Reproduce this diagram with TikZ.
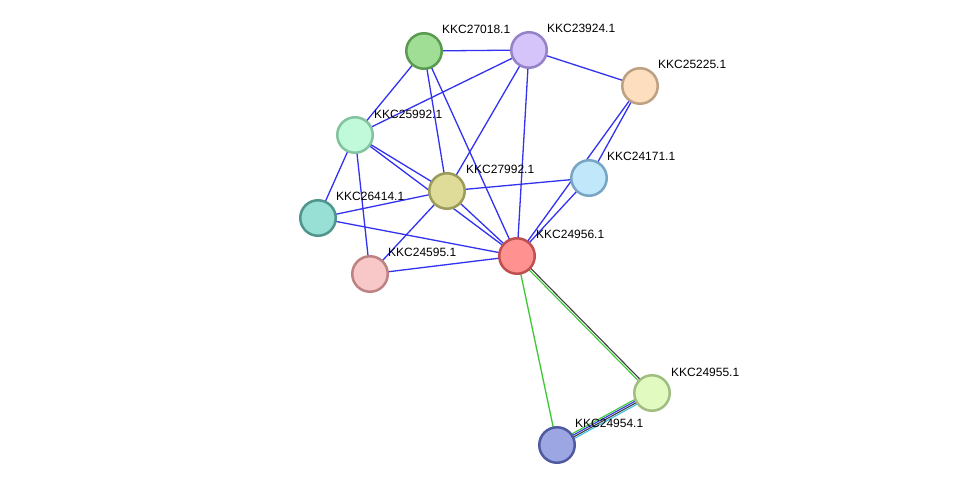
\documentclass[tikz,border=0pt]{standalone}
\usepackage{fontspec}
\setmainfont{Liberation Sans}
\usetikzlibrary{calc,backgrounds}
\definecolor{eblue}{RGB}{50,50,240}
\definecolor{egreen}{RGB}{60,200,50}
\definecolor{eblack}{RGB}{60,60,60}
\definecolor{ecyan}{RGB}{60,190,230}
\tikzset{
  prot/.style={circle,minimum size=35.5pt,inner sep=0pt,line width=2.5pt},
  lbl/.style={anchor=west,inner sep=0pt,font=\fontsize{12}{14}\selectfont},
  edge/.style={line width=1.3pt,eblue},
  medge/.style={line width=1.1pt},
}
\newcommand{\pedge}[4]{% #1 style, #2 offset, #3 from, #4 to
  \draw[#1] ($(#3.center)!#2!90:(#4.center)$) -- ($(#4.center)!#2!-90:(#3.center)$);}
\begin{document}
\begin{tikzpicture}[x=1pt,y=-1pt]
\useasboundingbox (0,0) rectangle (975,490);
% nodes
\node[prot,fill={rgb,255:red,160;green,222;blue,150},draw={rgb,255:red,90;green,155;blue,80}] (n27018) at (424,51) {};
\node[prot,fill={rgb,255:red,212;green,196;blue,250},draw={rgb,255:red,150;green,130;blue,200}] (n23924) at (529,50) {};
\node[prot,fill={rgb,255:red,253;green,223;blue,192},draw={rgb,255:red,190;green,160;blue,130}] (n25225) at (640,86) {};
\node[prot,fill={rgb,255:red,192;green,250;blue,218},draw={rgb,255:red,130;green,195;blue,160}] (n25992) at (355,135) {};
\node[prot,fill={rgb,255:red,192;green,232;blue,250},draw={rgb,255:red,120;green,165;blue,195}] (n24171) at (589,178) {};
\node[prot,fill={rgb,255:red,222;green,220;blue,152},draw={rgb,255:red,155;green,155;blue,90}] (n27992) at (447,191) {};
\node[prot,fill={rgb,255:red,152;green,224;blue,214},draw={rgb,255:red,80;green,150;blue,140}] (n26414) at (318,218) {};
\node[prot,fill={rgb,255:red,255;green,145;blue,145},draw={rgb,255:red,190;green,80;blue,80}] (n24956) at (517,256) {};
\node[prot,fill={rgb,255:red,248;green,200;blue,200},draw={rgb,255:red,190;green,130;blue,130}] (n24595) at (370,274) {};
\node[prot,fill={rgb,255:red,225;green,250;blue,192},draw={rgb,255:red,160;green,190;blue,130}] (n24955) at (652,393) {};
\node[prot,fill={rgb,255:red,156;green,166;blue,226},draw={rgb,255:red,80;green,90;blue,160}] (n24954) at (557,445) {};
% labels
\node[lbl] (l27018) at (442,29) {KKC27018.1};
\node[lbl] (l23924) at (547,28) {KKC23924.1};
\node[lbl] (l25225) at (658,64) {KKC25225.1};
\node[lbl] (l25992) at (374,114) {KKC25992.1};
\node[lbl] (l24171) at (607,156) {KKC24171.1};
\node[lbl] (l27992) at (466,169) {KKC27992.1};
\node[lbl] (l26414) at (336,196) {KKC26414.1};
\node[lbl] (l24956) at (536,234) {KKC24956.1};
\node[lbl] (l24595) at (388,252) {KKC24595.1};
\node[lbl] (l24955) at (671,372) {KKC24955.1};
\node[lbl] (l24954) at (575,423) {KKC24954.1};
% edges
\begin{pgfonlayer}{background}
\fill[white] (0,0) rectangle (975,490);
\draw[edge] (n27018.center) -- (n23924.center);
\draw[edge] (n27018.center) -- (n25992.center);
\draw[edge] (n27018.center) -- (n27992.center);
\draw[edge] (n27018.center) -- (n24956.center);
\draw[edge] (n23924.center) -- (n25992.center);
\draw[edge] (n23924.center) -- (n25225.center);
\draw[edge] (n23924.center) -- (n27992.center);
\draw[edge] (n23924.center) -- (n24956.center);
\draw[edge] (n25225.center) -- (n24171.center);
\draw[edge] (n25225.center) -- (n24956.center);
\draw[edge] (n24171.center) -- (n27992.center);
\draw[edge] (n24171.center) -- (n24956.center);
\draw[edge] (n25992.center) -- (n27992.center);
\draw[edge] (n25992.center) -- (n24956.center);
\draw[edge] (n25992.center) -- (n26414.center);
\draw[edge] (n25992.center) -- (n24595.center);
\draw[edge] (n26414.center) -- (n27992.center);
\draw[edge] (n26414.center) -- (n24956.center);
\draw[edge] (n27992.center) -- (n24595.center);
\draw[edge] (n27992.center) -- (n24956.center);
\draw[edge] (n24595.center) -- (n24956.center);
\draw[edge,egreen] (n24956.center) -- (n24954.center);
\pedge{medge,egreen}{-1.1pt}{n24956}{n24955}
\pedge{medge,eblack}{1.1pt}{n24956}{n24955}
\pedge{medge,egreen}{2.6pt}{n24954}{n24955}
\pedge{medge,eblue}{0.9pt}{n24954}{n24955}
\pedge{medge,eblack}{-0.9pt}{n24954}{n24955}
\pedge{medge,ecyan}{-2.6pt}{n24954}{n24955}
\end{pgfonlayer}
\end{tikzpicture}
\end{document}
